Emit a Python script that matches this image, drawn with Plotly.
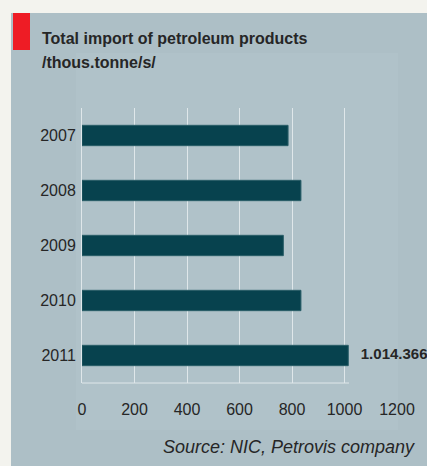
import plotly.graph_objects as go

years = ["2007", "2008", "2009", "2010", "2011"]
imports = [785, 834, 767, 834, 1014.366]
x_ticks = [0, 200, 400, 600, 800, 1000, 1200]
value_labels = ["", "", "", "", "1.014.366"]
title_line1 = "Total import of petroleum products"
title_line2 = "/thous.tonne/s/"
source_text = "Source: NIC, Petrovis company"

W, H = 427, 466
FONT = "Liberation Sans, Arial, sans-serif"
TXT = "#262626"

fig = go.Figure()
fig.add_trace(go.Bar(
    x=imports, y=years, orientation="h",
    marker=dict(color="#07424e", line=dict(color="#2a5e68", width=1)),
    hoverinfo="skip",
))
fig.add_trace(go.Scatter(
    x=imports, y=years, mode="text",
    text=["&nbsp;&nbsp;&nbsp;<b>" + t + "</b>" if t else "" for t in value_labels],
    textposition="middle right", cliponaxis=False, hoverinfo="skip",
    textfont=dict(family=FONT, size=15, color=TXT),
))

shapes = [
    dict(type="rect", xref="paper", yref="paper", x0=11 / W, x1=1.0, y0=0, y1=1 - 13 / H,
         fillcolor="#adbfc6", line=dict(width=0), layer="below"),
    dict(type="rect", xref="paper", yref="paper", x0=76 / W, x1=398 / W, y0=1 - 430 / H, y1=1 - 53 / H,
         fillcolor="#b0c2c9", line=dict(width=0), layer="below"),
    dict(type="rect", xref="paper", yref="paper", x0=13 / W, x1=30 / W, y0=1 - 50 / H, y1=1 - 13 / H,
         fillcolor="#ee1c25", line=dict(width=0), layer="above"),
    dict(type="line", xref="paper", yref="paper", x0=82 / W, x1=349 / W, y0=1 - 383 / H, y1=1 - 383 / H,
         line=dict(color="#dfe7ea", width=1), layer="below"),
]

annotations = [
    dict(xref="paper", yref="paper", x=40 / W, y=1 - 28 / H, xanchor="left", yanchor="top",
         text="<b>" + title_line1 + "</b>", showarrow=False, align="left",
         font=dict(family=FONT, size=16, color=TXT)),
    dict(xref="paper", yref="paper", x=40 / W, y=1 - 52 / H, xanchor="left", yanchor="top",
         text="<b>" + title_line2 + "</b>", showarrow=False, align="left",
         font=dict(family=FONT, size=16, color=TXT)),
    dict(xref="paper", yref="paper", x=417 / W, y=1 - 447 / H, xanchor="right", yanchor="middle",
         text="<i>" + source_text + "</i>", showarrow=False,
         font=dict(family=FONT, size=18, color=TXT)),
]
for a in annotations:
    fig.add_annotation(**a)

fig.update_layout(
    width=W, height=H,
    margin=dict(l=0, r=0, t=0, b=0, autoexpand=False),
    paper_bgcolor="#f3f3ee",
    plot_bgcolor="rgba(0,0,0,0)",
    showlegend=False,
    bargap=0.63,
    shapes=shapes,
    xaxis=dict(domain=[82 / W, 397 / W], range=[0, 1200], tickvals=x_ticks,
               showgrid=True, gridcolor="#dfe7ea", gridwidth=1, zeroline=False,
               showline=False, ticks="", ticklabelstandoff=15,
               tickfont=dict(family=FONT, size=16, color=TXT), fixedrange=True),
    yaxis=dict(domain=[1 - 383 / H, 1 - 108 / H], type="category",
               categoryorder="array", categoryarray=years, range=[4.5, -0.5],
               showgrid=False, zeroline=False, showline=True, linecolor="#dfe7ea", linewidth=1,
               ticks="", ticklabelstandoff=2,
               tickfont=dict(family=FONT, size=16, color=TXT), fixedrange=True),
)

fig.write_html("out.html", config={"displayModeBar": False},
               post_script="document.body.style.margin='0';")
